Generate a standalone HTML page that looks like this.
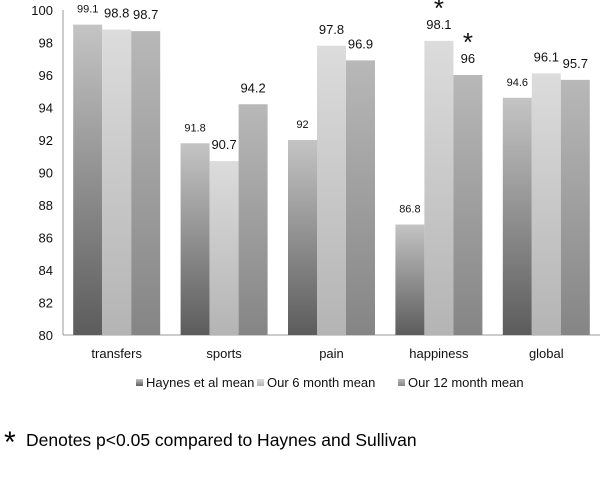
<!DOCTYPE html>
<html><head><meta charset="utf-8"><style>
body{margin:0;background:#fff;width:600px;height:479px;overflow:hidden;font-family:"Liberation Sans",sans-serif}
</style></head><body>
<svg width="600" height="479" xmlns="http://www.w3.org/2000/svg">
<defs>
<linearGradient id="g0" x1="0" y1="1" x2="0" y2="0"><stop offset="0" stop-color="#5c5c5c"/><stop offset="1" stop-color="#c4c4c4"/></linearGradient>
<linearGradient id="g1" x1="0" y1="1" x2="0" y2="0"><stop offset="0" stop-color="#b4b4b4"/><stop offset="1" stop-color="#dcdcdc"/></linearGradient>
<linearGradient id="g2" x1="0" y1="1" x2="0" y2="0"><stop offset="0" stop-color="#858585"/><stop offset="1" stop-color="#b8b8b8"/></linearGradient>
</defs>
<g id="axes"></g><g id="bars"></g><g id="legend"></g>
<text x="4" y="452" font-size="30" fill="#000">*</text>
<text x="26" y="446" font-size="17.5" fill="#000">Denotes p&lt;0.05 compared to Haynes and Sullivan</text>
</svg>
<script>
const categories=["transfers","sports","pain","happiness","global"];
const seriesNames=["Haynes et al mean","Our 6 month mean","Our 12 month mean"];
const haynes=[99.1,91.8,92,86.8,94.6];
const six=[98.8,90.7,97.8,98.1,96.1];
const twelve=[98.7,94.2,96.9,96,95.7];
const sig6=[false,false,false,true,false];
const sig12=[false,false,false,true,false];
const yTicks=[80,82,84,86,88,90,92,94,96,98,100];
const NS="http://www.w3.org/2000/svg";
const x0=63,x1=600,yTop=10,yBot=335,yMin=80,yMax=100;
const y=v=>yBot-(v-yMin)/(yMax-yMin)*(yBot-yTop);
const step=(x1-x0)/categories.length, bw=29, pad=(step-3*bw)/2;
function mk(tag,attrs,parent){const e=document.createElementNS(NS,tag);for(const k in attrs)e.setAttribute(k,attrs[k]);parent.appendChild(e);return e;}
const ax=document.getElementById('axes'),bg=document.getElementById('bars'),lg=document.getElementById('legend');
let l=mk('line',{x1:x0,y1:yTop,x2:x0,y2:yBot,stroke:'#999'},ax);


l=mk('line',{x1:x0,y1:yBot,x2:x1,y2:yBot,stroke:'#999'},ax);


yTicks.forEach(t=>{const e=mk('text',{x:x0-10,y:y(t)+5,'font-size':13,'text-anchor':'end',fill:'#111'},ax);e.textContent=t;

});
const series=[haynes,six,twelve],sigs=[null,sig6,sig12];
categories.forEach((c,i)=>{
 const gx=x0+i*step+pad;
 const t=mk('text',{x:x0+i*step+step/2,y:358,'font-size':13,'text-anchor':'middle',fill:'#111'},ax);t.textContent=c;
 
 
 series.forEach((s,j)=>{
  const v=s[i],bx=gx+j*bw;
  const r=mk('rect',{x:bx,y:y(v),width:bw,height:yBot-y(v),fill:'url(#g'+j+')'},bg);
  
  
  const lab=mk('text',{x:bx+bw/2,y:y(v)-12,'font-size':j==0?11:13,'text-anchor':'middle',fill:'#111'},bg);lab.textContent=v;
  
  
  if(sigs[j]&&sigs[j][i]){const a=mk('text',{x:bx+bw/2,y:y(v)-24,'font-size':26,'text-anchor':'middle',fill:'#111'},bg);a.textContent='*';
  
  }
 });
});
const lx=[136,257,398];
seriesNames.forEach((n,j)=>{
 const r=mk('rect',{x:lx[j],y:379,width:7,height:7,fill:'url(#g'+j+')'},lg);
 
 
 const t=mk('text',{x:lx[j]+10,y:387,'font-size':13,fill:'#111'},lg);t.textContent=n;
 
 
});
</script>
</body></html>
